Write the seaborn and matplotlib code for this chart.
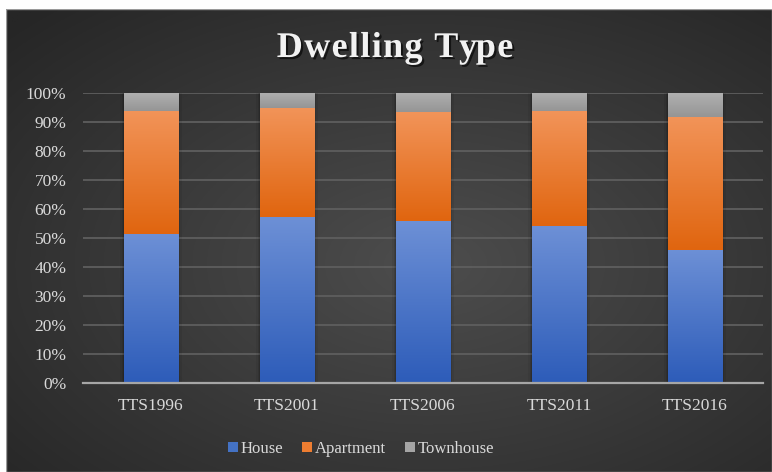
import numpy as np
import pandas as pd
import matplotlib
matplotlib.use("Agg")
import matplotlib.pyplot as plt
import seaborn as sns
from matplotlib import patheffects
from matplotlib.patches import Rectangle
from matplotlib.colors import to_rgb
from matplotlib.ticker import PercentFormatter, MultipleLocator

# Share of dwellings by type (%) per survey year
surveys = ["TTS1996", "TTS2001", "TTS2006", "TTS2011", "TTS2016"]
house = [51.4, 57.1, 55.8, 54.1, 45.9]
apartment = [42.5, 37.6, 37.5, 39.6, 45.9]
townhouse = [6.1, 5.3, 6.7, 6.3, 8.2]

series_names = ["House", "Apartment", "Townhouse"]
series_values = [house, apartment, townhouse]
base_colors = ["#4472c4", "#ed7d31", "#a5a5a5"]
# (top, bottom) shades for the vertical gradient on each segment
grad_colors = [("#6d90d6", "#2d5cb9"), ("#f29459", "#e0650f"), ("#b0b0b0", "#959595")]

FONT = "Liberation Serif"
TEXT_COLOR = "#d9d9d9"

sns.set_theme(style="dark")
plt.rcParams["font.family"] = [FONT, "DejaVu Serif"]

W, H = 772, 472
fig = plt.figure(figsize=(W / 100, H / 100), dpi=100, facecolor="white")

# Dark radial-gradient chart background
bg = fig.add_axes([6 / W, 0, (W - 6) / W, (H - 9) / H], zorder=-10)
ny, nx = 300, 500
yy, xx = np.mgrid[0:ny, 0:nx]
cx, cy = 0.55 * nx, 0.55 * ny
d = np.sqrt(((xx - cx) / (0.75 * nx)) ** 2 + ((yy - cy) / (0.75 * ny)) ** 2)
d = np.clip(d, 0, 1)
inner, outer = np.array(to_rgb("#4d4d4d")), np.array(to_rgb("#262626"))
img = inner[None, None, :] * (1 - d[..., None]) + outer[None, None, :] * d[..., None]
bg.imshow(img, aspect="auto", extent=[0, 1, 0, 1], origin="upper")
bg.set_xlim(0, 1)
bg.set_ylim(0, 1)
bg.axis("off")
bg.add_patch(Rectangle((0, 0), 1, 1, transform=bg.transAxes, fill=False,
                       edgecolor="#9a9a9a", linewidth=1.0))

ax = fig.add_axes([83 / W, (H - 383) / H, 680 / W, 290 / H])
ax.set_facecolor("none")

# Stacked bars: cumulative totals drawn back to front
cum = np.cumsum(np.array(series_values), axis=0)
df = pd.DataFrame({"survey": surveys})
for i in range(len(series_names) - 1, -1, -1):
    df["top"] = cum[i]
    sns.barplot(data=df, x="survey", y="top", color=base_colors[i], saturation=1,
                width=0.4, ax=ax, zorder=2, linewidth=0)

# Containers are in drawing order: Townhouse, Apartment, House
containers = list(ax.containers)[::-1]
n_grad = 256
for i, cont in enumerate(containers):
    top_c, bot_c = np.array(to_rgb(grad_colors[i][0])), np.array(to_rgb(grad_colors[i][1]))
    t = np.linspace(0, 1, n_grad)[:, None, None]
    grad = bot_c[None, None, :] * (1 - t) + top_c[None, None, :] * t
    for j, bar in enumerate(cont.patches):
        x0 = bar.get_x()
        w = bar.get_width()
        lower = cum[i - 1][j] if i > 0 else 0.0
        upper = cum[i][j]
        ax.imshow(grad, extent=[x0, x0 + w, lower, upper], origin="lower",
                  aspect="auto", zorder=3, interpolation="bilinear")
        if i == len(containers) - 1:
            # soft shadow around the whole stacked column
            for k, a in zip([0.05, 0.03, 0.015], [0.06, 0.09, 0.12]):
                ax.add_patch(Rectangle((x0 - k * 0.5, 0), w + k, upper + k * 30,
                                       facecolor="black", alpha=a, linewidth=0, zorder=1.5))

ax.set_xlim(-0.5, len(surveys) - 0.5)
ax.set_ylim(0, 100)
ax.yaxis.set_major_locator(MultipleLocator(10))
ax.yaxis.set_major_formatter(PercentFormatter(100, decimals=0))
ax.grid(axis="y", color="#5e5e5e", linewidth=1.3, zorder=0)
ax.grid(axis="x", visible=False)
ax.set_axisbelow(True)
for side in ["top", "right", "left"]:
    ax.spines[side].set_visible(False)
ax.spines["bottom"].set_color("#a6a6a6")
ax.spines["bottom"].set_linewidth(1.6)
ax.spines["bottom"].set_zorder(5)
ax.tick_params(axis="both", length=0, colors=TEXT_COLOR, labelsize=12.5)
ax.tick_params(axis="x", pad=11)
ax.tick_params(axis="y", pad=12)
ax.set_xlabel("")
ax.set_ylabel("")
for lab in ax.get_xticklabels() + ax.get_yticklabels():
    lab.set_fontfamily(FONT)

# Title with drop shadow, laid out letter by letter for a little tracking
title = "Dwelling Type"
tracking_px = 1.3
title_kw = dict(fontsize=26, fontweight="bold", color="#f2f2f2", family=FONT,
                va="baseline", ha="left",
                path_effects=[patheffects.withSimplePatchShadow(offset=(1.5, -1.5),
                                                                shadow_rgbFace="black", alpha=0.6)])
renderer = fig.canvas.get_renderer()
probe = fig.text(0, 0, title, **title_kw)
full_w = probe.get_window_extent(renderer).width
probe.remove()
total_w = full_w + tracking_px * (len(title) - 1)
x_px = 395 - total_w / 2
base_y = 1 - 57 / H
for k, ch in enumerate(title):
    prefix = fig.text(0, 0, title[:k], **title_kw) if k > 0 else None
    offset = prefix.get_window_extent(renderer).width if prefix is not None else 0
    if prefix is not None:
        prefix.remove()
    fig.text((x_px + offset + tracking_px * k) / W, base_y, ch, **title_kw)

# Legend
handles = [Rectangle((0, 0), 1, 1, facecolor=c, edgecolor="none") for c in base_colors]
leg = fig.legend(handles, series_names, loc="center", bbox_to_anchor=(361 / W, 1 - 449 / H),
                 ncol=3, frameon=False, handlelength=0.6, handleheight=0.6,
                 handletextpad=0.2, columnspacing=1.1,
                 prop={"family": FONT, "size": 12})
for txt in leg.get_texts():
    txt.set_color(TEXT_COLOR)

fig.savefig("out.png", dpi=100, facecolor=fig.get_facecolor())
